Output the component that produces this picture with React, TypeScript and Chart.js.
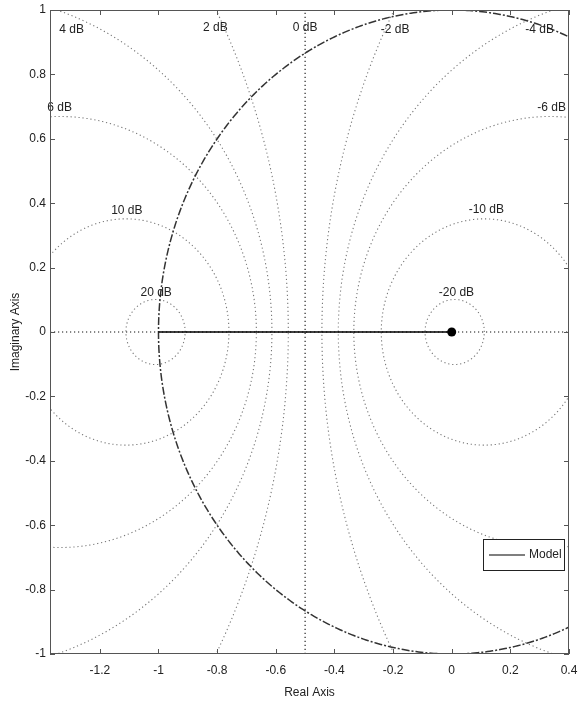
import React, { useEffect, useRef } from 'react';
import { Chart, registerables } from 'chart.js';

Chart.register(...registerables);

// ---- data ----
const gridDb = [20, 10, 6, 4, 2, -2, -4, -6, -10, -20];
const zeroDbRe = -0.5;
const dbLabels = ['4 dB', '2 dB', '0 dB', '-2 dB', '-4 dB', '6 dB', '-6 dB', '10 dB', '-10 dB', '20 dB', '-20 dB'];
const dbLabelRe = [-1.296, -0.806, -0.5, -0.193, 0.3, -1.337, 0.341, -1.108, 0.118, -1.008, 0.016];
const dbLabelIm = [0.938, 0.944, 0.944, 0.938, 0.938, 0.696, 0.696, 0.376, 0.379, 0.121, 0.121];
const modelRe = [-1, 0];
const modelIm = [0, 0];
const xTicks = [-1.2, -1, -0.8, -0.6, -0.4, -0.2, 0, 0.2, 0.4];
const yTicks = [-1, -0.8, -0.6, -0.4, -0.2, 0, 0.2, 0.4, 0.6, 0.8, 1];
const xRange = [-1.37, 0.4];
const yRange = [-1, 1];
const legendLabel = 'Model';
const xTitle = 'Real Axis';
const yTitle = 'Imaginary Axis';

const FONT = '"Liberation Sans", Arial, sans-serif';

function circlePts(cx: number, cy: number, r: number, n = 720) {
  const pts: { x: number; y: number }[] = [];
  for (let i = 0; i <= n; i++) {
    const t = (i / n) * Math.PI * 2;
    pts.push({ x: cx + r * Math.cos(t), y: cy + r * Math.sin(t) });
  }
  return pts;
}

function mCircle(db: number) {
  const M = Math.pow(10, db / 20);
  const M2 = M * M;
  const c = -M2 / (M2 - 1);
  const r = Math.abs(M / (M2 - 1));
  return circlePts(c, 0, r);
}

const fmt = (v: number) => String(Math.round(v * 10) / 10);

const framePlugin = {
  id: 'framePlugin',
  afterDatasetsDraw(chart: any) {
    const { ctx, chartArea: a, scales } = chart;
    const xs = scales.x;
    const ys = scales.y;
    ctx.save();
    // dB labels
    ctx.fillStyle = '#222';
    ctx.font = `12px ${FONT}`;
    ctx.textAlign = 'center';
    ctx.textBaseline = 'middle';
    dbLabels.forEach((t, i) => {
      ctx.fillText(t, xs.getPixelForValue(dbLabelRe[i]), ys.getPixelForValue(dbLabelIm[i]));
    });
    // frame
    ctx.strokeStyle = '#555';
    ctx.lineWidth = 1;
    ctx.strokeRect(a.left + 0.5, a.top + 0.5, a.right - a.left - 1, a.bottom - a.top - 1);
    // inward ticks
    const tl = 5;
    ctx.beginPath();
    xTicks.forEach((v) => {
      const px = Math.round(xs.getPixelForValue(v)) + 0.5;
      ctx.moveTo(px, a.bottom);
      ctx.lineTo(px, a.bottom - tl);
      ctx.moveTo(px, a.top);
      ctx.lineTo(px, a.top + tl);
    });
    yTicks.forEach((v) => {
      const py = Math.round(ys.getPixelForValue(v)) + 0.5;
      ctx.moveTo(a.left, py);
      ctx.lineTo(a.left + tl, py);
      ctx.moveTo(a.right, py);
      ctx.lineTo(a.right - tl, py);
    });
    ctx.stroke();
    // legend box
    const bx = a.right - 86;
    const by = a.bottom - 115;
    const bw = 81;
    const bh = 31;
    ctx.fillStyle = '#fff';
    ctx.fillRect(bx, by, bw, bh);
    ctx.strokeStyle = '#222';
    ctx.lineWidth = 1;
    ctx.strokeRect(bx + 0.5, by + 0.5, bw, bh);
    ctx.beginPath();
    ctx.strokeStyle = '#000';
    ctx.lineWidth = 1.2;
    ctx.moveTo(bx + 6, by + 16);
    ctx.lineTo(bx + 42, by + 16);
    ctx.stroke();
    ctx.fillStyle = '#222';
    ctx.textAlign = 'left';
    ctx.fillText(legendLabel, bx + 46, by + 16);
    ctx.restore();
  },
};

export default function App() {
  const ref = useRef<HTMLCanvasElement | null>(null);
  useEffect(() => {
    if (!ref.current) return;
    const gridStyle = {
      showLine: true,
      borderColor: '#777',
      borderWidth: 1.1,
      borderDash: [1.2, 2.8],
      pointRadius: 0,
      fill: false,
      clip: 0,
    };
    const datasets: any[] = [
      {
        label: legendLabel,
        data: modelRe.map((x, i) => ({ x, y: modelIm[i] })),
        showLine: true,
        borderColor: '#000',
        backgroundColor: '#000',
        borderWidth: 1.5,
        pointRadius: (c: any) => (c.dataIndex === 1 ? 4.5 : 0),
        pointBorderWidth: 0,
        clip: 0,
      },
      {
        label: 'unit',
        data: circlePts(0, 0, 1),
        showLine: true,
        borderColor: '#333',
        borderWidth: 1.5,
        borderDash: [8, 2, 2, 2],
        pointRadius: 0,
        clip: 0,
      },
      {
        label: 'zero-im',
        data: [{ x: xRange[0], y: 0 }, { x: xRange[1], y: 0 }],
        ...gridStyle,
        borderColor: '#111',
      },
      {
        label: '0 dB',
        data: [{ x: zeroDbRe, y: yRange[0] }, { x: zeroDbRe, y: yRange[1] }],
        ...gridStyle,
        borderColor: '#111',
      },
      ...gridDb.map((db) => ({ label: `${db} dB`, data: mCircle(db), ...gridStyle })),
    ];
    const chart = new Chart(ref.current, {
      type: 'scatter',
      data: { datasets },
      options: {
        animation: false,
        responsive: false,
        devicePixelRatio: 1,
        layout: { padding: { top: 10, right: 9, left: 0, bottom: 0 } },
        plugins: { legend: { display: false }, tooltip: { enabled: false } },
        scales: {
          x: {
            type: 'linear',
            min: xRange[0],
            max: xRange[1],
            afterBuildTicks: (s: any) => {
              s.ticks = xTicks.map((v) => ({ value: v }));
            },
            afterFit: (s: any) => {
              s.height = 50;
              s.paddingLeft = 0;
              s.paddingRight = 0;
            },
            grid: { display: false, drawTicks: false },
            border: { display: false },
            ticks: {
              autoSkip: false,
              maxRotation: 0,
              padding: 9,
              color: '#222',
              font: { family: FONT, size: 12 },
              callback: (v: any) => fmt(Number(v)),
            },
            title: {
              display: true,
              text: xTitle,
              color: '#222',
              font: { family: FONT, size: 12 },
              padding: { top: 0, bottom: 4 },
            },
          },
          y: {
            type: 'linear',
            min: yRange[0],
            max: yRange[1],
            afterBuildTicks: (s: any) => {
              s.ticks = yTicks.map((v) => ({ value: v }));
            },
            afterFit: (s: any) => {
              s.width = 50;
              s.paddingTop = 0;
              s.paddingBottom = 0;
            },
            grid: { display: false, drawTicks: false },
            border: { display: false },
            ticks: {
              autoSkip: false,
              padding: 4,
              color: '#222',
              font: { family: FONT, size: 12 },
              callback: (v: any) => fmt(Number(v)),
            },
            title: {
              display: true,
              text: yTitle,
              color: '#222',
              font: { family: FONT, size: 12 },
              padding: { top: 8, bottom: 0 },
            },
          },
        },
      },
      plugins: [framePlugin],
    });
    return () => chart.destroy();
  }, []);
  return (
    <div style={{ position: 'absolute', left: 0, top: 0, width: 578, height: 704, background: '#fff' }}>
      <canvas ref={ref} width={578} height={704} />
    </div>
  );
}
